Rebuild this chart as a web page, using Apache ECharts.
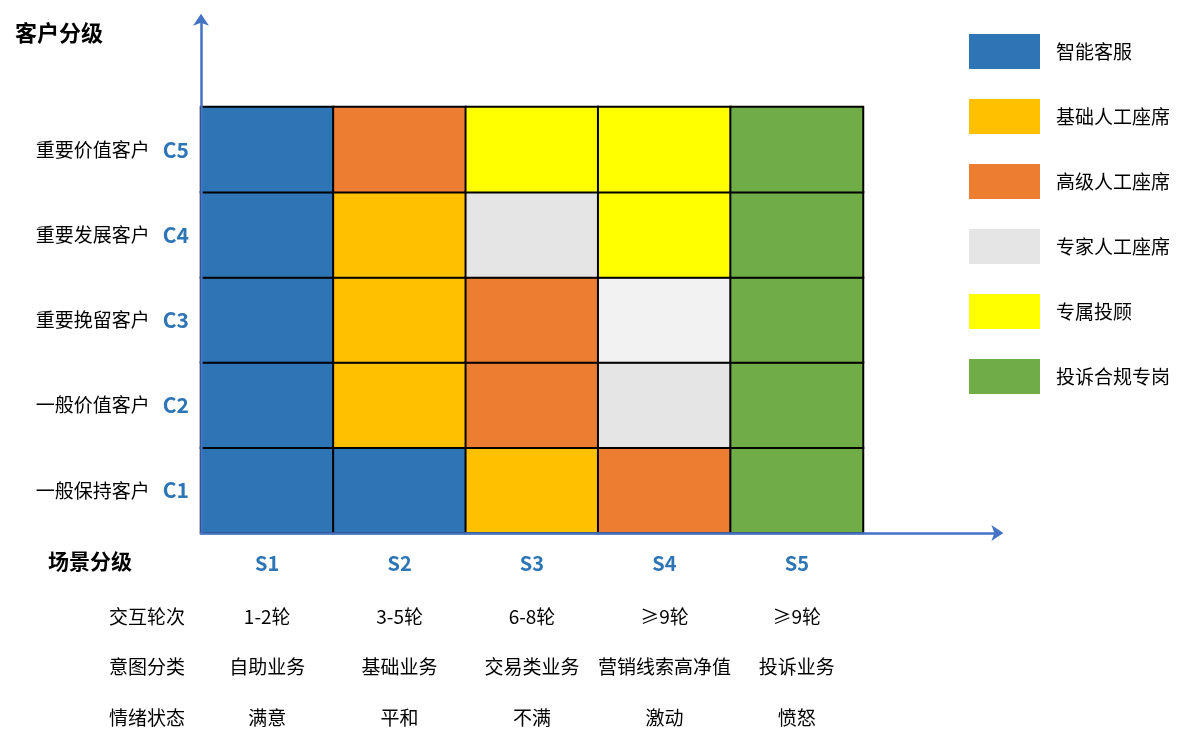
<!DOCTYPE html>
<html>
<head>
<meta charset="utf-8">
<script src="https://cdn.jsdelivr.net/npm/echarts@6/dist/echarts.min.js"></script>
<style>
  html, body { margin: 0; padding: 0; background: #fff; }
  #chart { width: 1186px; height: 741px; }
</style>
</head>
<body>
<div id="chart"></div>
<script>
// 场景（列）与客户（行）分级
const scenes = ['S1', 'S2', 'S3', 'S4', 'S5'];
const rounds = ['1-2轮', '3-5轮', '6-8轮', '≥9轮', '≥9轮'];
const intents = ['自助业务', '基础业务', '交易类业务', '营销线索高净值', '投诉业务'];
const moods = ['满意', '平和', '不满', '激动', '愤怒'];
const levels = ['C1', 'C2', 'C3', 'C4', 'C5'];
const customers = ['一般保持客户', '一般价值客户', '重要挽留客户', '重要发展客户', '重要价值客户'];
const rowTitles = ['交互轮次', '意图分类', '情绪状态'];

// 服务角色
const roles = ['智能客服', '基础人工座席', '高级人工座席', '专家人工座席', '专属投顾', '投诉合规专岗'];
const roleColors = ['#2E75B6', '#FFC000', '#ED7D31', '#E5E5E5', '#FFFF00', '#70AD47'];

// 每行 C1..C5，每列 S1..S5 对应的角色序号
const assign = [
    [0, 0, 1, 2, 5],
    [0, 1, 2, 3, 5],
    [0, 1, 2, 3, 5],
    [0, 1, 3, 4, 5],
    [0, 2, 4, 4, 5]
];
// 颜色较浅的专家座席格子 [列, 行]
const paleCells = [[3, 2]];

const FONT = '"Noto Sans CJK SC", "Microsoft YaHei", sans-serif';
const BLUE_AXIS = '#4472C4';
const LABEL_BLUE = '#2E75B6';

const chart = echarts.init(document.getElementById('chart'));

// 构建每个角色一个 heatmap 系列
const series = roles.map((role, r) => {
    const data = [];
    assign.forEach((row, y) => {
        row.forEach((v, x) => {
            if (v !== r) return;
            const pale = paleCells.some(p => p[0] === x && p[1] === y);
            data.push(pale
                ? { value: [x, y, 1], itemStyle: { color: '#F2F2F2' } }
                : [x, y, 1]);
        });
    });
    return {
        name: role,
        type: 'heatmap',
        data: data,
        itemStyle: { color: roleColors[r], borderColor: '#000', borderWidth: 2 },
        emphasis: { disabled: true },
        z: 2
    };
});

const cellW = (863 - 201) / 5;
const cellH = (533 - 107) / 5;

const option = {
    animation: false,
    textStyle: { fontFamily: FONT },
    grid: {
        left: 201,
        right: 1186 - 201 - cellW * 6,
        top: 533 - cellH * 6,
        bottom: 741 - 533,
        containLabel: false
    },
    legend: {
        data: roles,
        orient: 'vertical',
        left: 969,
        top: 34,
        padding: 0,
        icon: 'rect',
        itemWidth: 71,
        itemHeight: 35,
        itemGap: 30,
        selectedMode: false,
        itemStyle: { borderWidth: 0 },
        textStyle: { fontSize: 19, color: '#000', fontFamily: FONT, padding: [0, 0, 0, 11] }
    },
    xAxis: {
        type: 'category',
        data: scenes.concat(['']),
        z: 5,
        axisLine: {
            lineStyle: { color: BLUE_AXIS, width: 2.5 },
            symbol: ['none', 'arrow'],
            symbolSize: [12, 12],
            symbolOffset: [0, 8]
        },
        axisTick: { show: false },
        splitLine: { show: false },
        axisLabel: {
            interval: 0,
            margin: 0,
            formatter: (v, i) => i < 5
                ? `{s|${v}}\n{a|${rounds[i]}}\n{b|${intents[i]}}\n{c|${moods[i]}}`
                : '',
            rich: {
                s: { fontSize: 20, fontWeight: 'bold', color: LABEL_BLUE, lineHeight: 60, fontFamily: FONT },
                a: { fontSize: 19, color: '#000', lineHeight: 48, fontFamily: FONT },
                b: { fontSize: 19, color: '#000', lineHeight: 52, fontFamily: FONT },
                c: { fontSize: 19, color: '#000', lineHeight: 50, fontFamily: FONT }
            }
        }
    },
    yAxis: {
        type: 'category',
        data: levels.concat(['']),
        z: 5,
        axisLine: {
            lineStyle: { color: BLUE_AXIS, width: 2.5 },
            symbol: ['none', 'arrow'],
            symbolSize: [12, 12],
            symbolOffset: [0, 8]
        },
        axisTick: { show: false },
        splitLine: { show: false },
        axisLabel: {
            interval: 0,
            margin: 12,
            formatter: (v, i) => i < 5 ? `{n|${customers[i]}}{c|${v}}` : '',
            rich: {
                n: { fontSize: 19, color: '#000', padding: [0, 13, 0, 0], fontFamily: FONT },
                c: { fontSize: 21, fontWeight: 'bold', color: LABEL_BLUE, fontFamily: FONT }
            }
        }
    },
    graphic: [
        {
            type: 'text', left: 15, top: 22,
            style: { text: '客户分级', fontSize: 22, fontWeight: 'bold', fill: '#000', fontFamily: FONT }
        },
        {
            type: 'text', left: 48, top: 551,
            style: { text: '场景分级', fontSize: 21, fontWeight: 'bold', fill: '#000', fontFamily: FONT }
        }
    ].concat(rowTitles.map((t, i) => ({
        type: 'text',
        x: 147,
        y: [617, 667, 718][i],
        style: {
            text: t, fontSize: 19, fill: '#000', fontFamily: FONT,
            align: 'center', verticalAlign: 'middle'
        }
    }))),
    series: series
};

chart.setOption(option);
</script>
</body>
</html>
